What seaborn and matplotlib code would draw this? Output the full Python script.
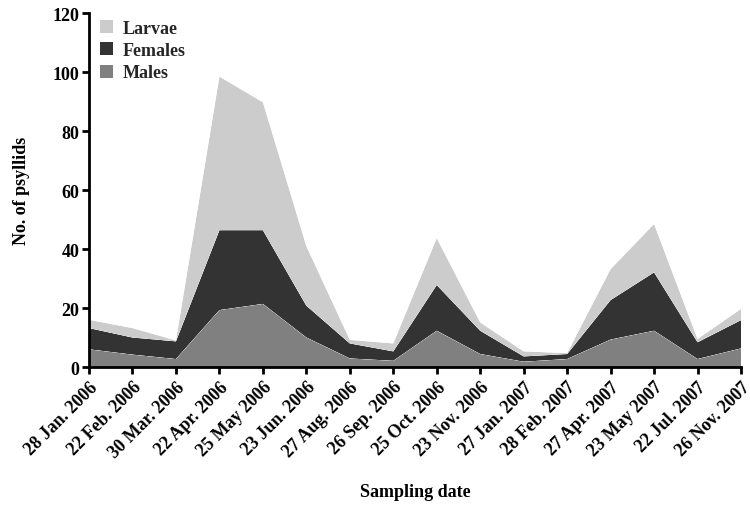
import matplotlib
matplotlib.use("Agg")
import matplotlib.pyplot as plt
from matplotlib.patches import Patch
import numpy as np
import pandas as pd
import seaborn as sns
import seaborn.objects as so

# Sampling dates (x axis)
dates = ["28 Jan. 2006", "22 Feb. 2006", "30 Mar. 2006", "22 Apr. 2006",
         "25 May 2006", "23 Jun. 2006", "27 Aug. 2006", "26 Sep. 2006",
         "25 Oct. 2006", "23 Nov. 2006", "27 Jan. 2007", "28 Feb. 2007",
         "27 Apr. 2007", "23 May 2007", "22 Jul. 2007", "26 Nov. 2007"]

# Number of psyllids per stage
males = [6.0, 4.2, 2.7, 19.3, 21.4, 10.0, 2.9, 2.1, 12.3, 4.4, 1.8, 2.7, 9.3, 12.3, 2.7, 6.3]
females = [7.2, 5.8, 6.0, 27.1, 25.0, 10.8, 5.1, 3.2, 15.5, 7.9, 1.8, 1.7, 13.4, 19.8, 5.7, 9.6]
larvae = [2.8, 3.2, 0.3, 52.1, 43.4, 20.2, 1.2, 2.7, 15.9, 2.8, 1.7, 0.3, 10.5, 16.4, 1.1, 3.8]

stages = ["Males", "Females", "Larvae"]
stage_colors = {"Males": "#808080", "Females": "#333333", "Larvae": "#cccccc"}
yticks = [0, 20, 40, 60, 80, 100, 120]

sns.set_theme(style="ticks")
plt.rcParams["font.family"] = ["Liberation Serif", "DejaVu Serif"]
plt.rcParams["font.weight"] = "bold"

df = pd.concat([
    pd.DataFrame({"idx": np.arange(len(dates)), "count": vals, "stage": name})
    for name, vals in zip(stages, [males, females, larvae])
], ignore_index=True)

fig = plt.figure(figsize=(7.5, 5.06), dpi=100)
ax = fig.add_axes([0.1187, 0.2727, 0.8693, 0.6993])

(
    so.Plot(df, x="idx", y="count", color="stage")
    .add(so.Area(alpha=1, edgewidth=0), so.Stack(), legend=False)
    .scale(color=so.Nominal(stage_colors, order=stages))
    .on(ax)
    .plot()
)

ax.set_xlim(0, len(dates) - 1)
ax.set_ylim(0, 120)
ax.set_xticks(np.arange(len(dates)))
ax.set_xticklabels(dates, rotation=45, ha="right", rotation_mode="anchor",
                   fontsize=13, fontweight="bold")
ax.set_yticks(yticks)
ax.set_yticklabels([str(v) for v in yticks], fontsize=13, fontweight="bold")
ax.tick_params(axis="both", direction="out", length=5, width=2, color="black",
               pad=2, labelcolor="black")
ax.tick_params(axis="x", pad=3)
for side in ["top", "right"]:
    ax.spines[side].set_visible(False)
for side in ["left", "bottom"]:
    ax.spines[side].set_linewidth(2)
    ax.spines[side].set_color("black")
ax.grid(False)
ax.set_facecolor("white")

ax.set_ylabel("No. of psyllids", fontsize=13, fontweight="bold", labelpad=16,
              color="black")
ax.set_xlabel("Sampling date", fontsize=13, fontweight="bold", labelpad=16,
              color="black")

handles = [Patch(facecolor=stage_colors[s], edgecolor="none") for s in ["Larvae", "Females", "Males"]]
ax.legend(handles, ["Larvae", "Females", "Males"], loc="upper left",
          bbox_to_anchor=(0.008, 0.997), frameon=False,
          prop={"size": 13, "weight": "bold"},
          handlelength=0.75, handleheight=0.75, handletextpad=0.55,
          labelspacing=0.3, borderaxespad=0.0, borderpad=0.3)

fig.savefig("out.png", dpi=100, facecolor="white")
